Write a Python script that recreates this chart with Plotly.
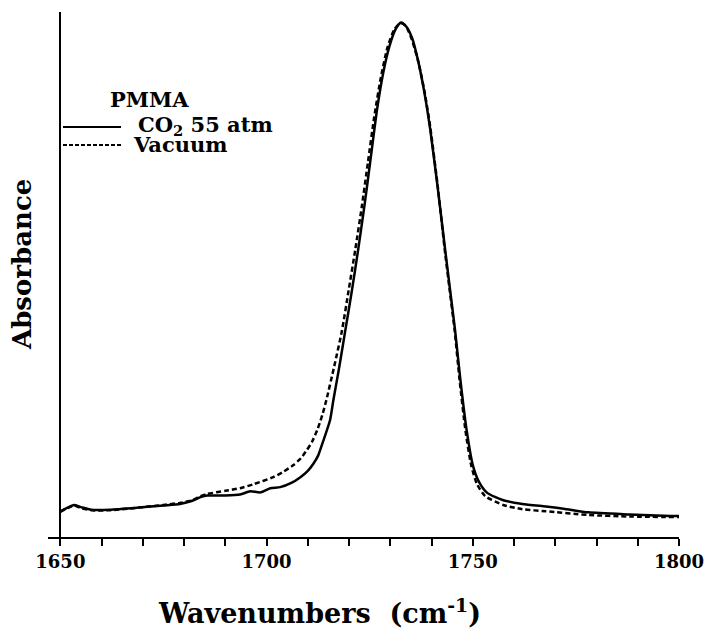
import plotly.graph_objects as go

# ---- data ----
wn_co2 = [1650, 1651.5, 1653.3, 1655, 1657.5, 1662, 1669, 1675, 1679, 1682, 1684, 1685.6,
          1690, 1693.6, 1696, 1698.5, 1700.9, 1703.3, 1706, 1708.2, 1710, 1711.3, 1712.5,
          1713.7, 1715.4, 1716.2, 1717.5, 1719.1, 1720.6, 1722.2, 1723.8, 1725.3, 1726.8,
          1728.3, 1729.8, 1731.2, 1732.6, 1733.9, 1735.3, 1736.8, 1738.3, 1739.7, 1741.5,
          1743.3, 1744.5, 1745.7, 1747, 1748.5, 1750, 1751.5, 1753.5, 1757.4, 1762, 1767.7,
          1772, 1778, 1788, 1798, 1800]
abs_co2 = [0.049, 0.055, 0.061, 0.057, 0.052, 0.052, 0.056, 0.060, 0.063, 0.069, 0.076, 0.079,
           0.079, 0.081, 0.087, 0.085, 0.093, 0.095, 0.103, 0.114, 0.126, 0.139, 0.155,
           0.182, 0.223, 0.261, 0.318, 0.394, 0.465, 0.547, 0.635, 0.725, 0.815,
           0.885, 0.935, 0.966, 0.980, 0.972, 0.950, 0.905, 0.845, 0.775, 0.665,
           0.547, 0.470, 0.394, 0.299, 0.204, 0.137, 0.105, 0.084, 0.070, 0.063, 0.058,
           0.054, 0.047, 0.043, 0.040, 0.040]

wn_vac = [1650, 1651.5, 1653.3, 1655, 1657.5, 1662, 1669, 1675, 1679, 1682, 1684, 1685.6,
          1690, 1693.6, 1697, 1701.6, 1704, 1706.5, 1708.3, 1709.8, 1711, 1712.3, 1713.5,
          1714.5, 1716.4, 1718.3, 1719.9, 1721.5, 1723.1, 1724.6, 1726.1, 1727.7, 1729.3,
          1730.9, 1732.4, 1733.7, 1735.2, 1736.8, 1738.3, 1739.7, 1741.5, 1743.2, 1744.4,
          1745.6, 1746.8, 1748.2, 1749.6, 1751, 1753, 1757.4, 1762, 1767.7, 1778, 1788, 1800]
abs_vac = [0.048, 0.054, 0.060, 0.055, 0.051, 0.051, 0.056, 0.061, 0.065, 0.070, 0.078, 0.082,
           0.088, 0.093, 0.101, 0.114, 0.124, 0.137, 0.150, 0.166, 0.181, 0.204, 0.232,
           0.261, 0.325, 0.394, 0.470, 0.547, 0.630, 0.715, 0.800, 0.875, 0.932,
           0.966, 0.979, 0.974, 0.948, 0.905, 0.848, 0.780, 0.668, 0.547, 0.470,
           0.394, 0.299, 0.204, 0.137, 0.101, 0.078, 0.061, 0.053, 0.049, 0.042, 0.039, 0.038]

x_ticks = [1650, 1700, 1750, 1800]
legend_title = "PMMA"
series_names = ["CO<sub>2</sub> 55 atm", "Vacuum"]

# ---- layout geometry (pixels) ----
W, H = 706, 631
L, R, T, B = 48, 27, 12, 94
FONT = "DejaVu Serif"


def px(xp):
    return (xp - L) / (W - L - R)


def py(yp):
    return (H - B - yp) / (H - T - B)


def f(size, weight="bold"):
    return dict(family=FONT, size=size, color="black", weight=weight)


fig = go.Figure()
fig.add_trace(go.Scatter(x=wn_co2, y=abs_co2, mode="lines", name="CO2 55 atm",
                         line=dict(color="black", width=2.5, shape="spline", smoothing=0.6),
                         showlegend=False))
fig.add_trace(go.Scatter(x=wn_vac, y=abs_vac, mode="lines", name="Vacuum",
                         line=dict(color="black", width=2.5, dash="5px,3px",
                                   shape="spline", smoothing=0.6),
                         showlegend=False))

# manual legend
for yl, dash in [(127, "solid"), (145, "4px,2px")]:
    fig.add_shape(type="line", xref="paper", yref="paper",
                  x0=px(63), x1=px(121), y0=py(yl), y1=py(yl),
                  line=dict(color="black", width=2, dash=dash))
fig.add_annotation(xref="paper", yref="paper", x=px(149), y=py(99), text=legend_title,
                   showarrow=False, font=f(21), xanchor="center", yanchor="middle")
fig.add_annotation(xref="paper", yref="paper", x=px(136), y=py(125), text=series_names[0],
                   showarrow=False, font=f(21), xanchor="left", yanchor="middle")
fig.add_annotation(xref="paper", yref="paper", x=px(131), y=py(144), text=series_names[1],
                   showarrow=False, font=f(21), xanchor="left", yanchor="middle")

# axis titles
fig.add_annotation(xref="paper", yref="paper", x=px(319), y=py(611),
                   text="Wavenumbers  (cm<sup>-1</sup>)", showarrow=False,
                   font=f(27), xanchor="center", yanchor="middle")
fig.add_annotation(xref="paper", yref="paper", x=px(22), y=py(265),
                   text="Absorbance", textangle=-90, showarrow=False,
                   font=f(26), xanchor="center", yanchor="middle")

fig.update_layout(
    width=W, height=H,
    margin=dict(l=L, r=R, t=T, b=B),
    paper_bgcolor="white", plot_bgcolor="white",
    font=dict(family=FONT, color="black"),
    xaxis=dict(range=[1647, 1800], showgrid=False, zeroline=False, automargin=False,
               showline=True, linecolor="black", linewidth=2,
               tickvals=x_ticks, ticktext=[str(t) for t in x_ticks],
               ticks="outside", ticklen=7, tickwidth=1.5, tickcolor="black",
               tickfont=f(18),
               minor=dict(dtick=10, tick0=1650, ticks="outside", ticklen=7,
                          tickwidth=1.5, tickcolor="black", showgrid=False)),
    yaxis=dict(range=[0, 1], showgrid=False, zeroline=False, automargin=False,
               anchor="free", position=px(60),
               showline=True, linecolor="black", linewidth=2,
               showticklabels=False, ticks=""),
)

fig.write_html("out.html", config={"displayModeBar": False},
               post_script="document.body.style.margin='0px';")
